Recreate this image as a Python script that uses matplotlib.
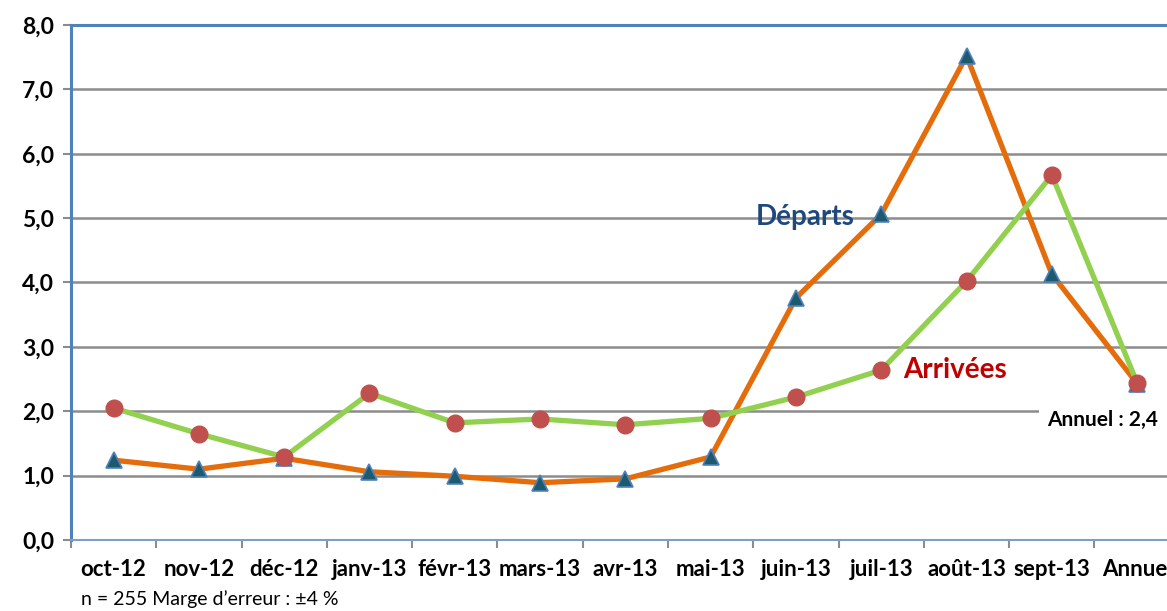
import matplotlib
matplotlib.use("Agg")
import matplotlib.pyplot as plt
import numpy as np

mois = ["oct-12", "nov-12", "déc-12", "janv-13", "févr-13", "mars-13", "avr-13",
        "mai-13", "juin-13", "juil-13", "août-13", "sept-13", "Annuel"]
departs = [1.24, 1.10, 1.27, 1.06, 0.99, 0.89, 0.95, 1.29, 3.76, 5.06, 7.52, 4.13, 2.43]
arrivees = [2.05, 1.65, 1.29, 2.28, 1.82, 1.88, 1.79, 1.89, 2.22, 2.64, 4.02, 5.67, 2.44]
yticks = [0, 1, 2, 3, 4, 5, 6, 7, 8]

plt.rcParams['font.family'] = ['Lato', 'DejaVu Sans']

fig = plt.figure(figsize=(11.67, 6.11), dpi=100)
ax = fig.add_axes([0.0608, 0.1162, 0.9392, 0.8429])

x = np.arange(len(mois))
ax.plot(x, departs, color='#E46C0A', lw=3.8, marker='^', ms=11,
        mfc='#1D5A6E', mec='#4F81BD', mew=1.2, zorder=3)
ax.plot(x, arrivees, color='#92D050', lw=3.8, marker='o', ms=12,
        mfc='#C0504D', mec='#C0504D', zorder=4)

ax.set_yticks(yticks)
ax.set_yticklabels([f"{v:.1f}".replace('.', ',') for v in yticks],
                   fontsize=16.5, fontweight='bold')
ax.yaxis.grid(True, color='#8C8C8C', lw=1.8)
ax.set_axisbelow(True)

ax.set_xticks(x)
ax.set_xticklabels(mois, fontsize=16, fontweight='bold')
ax.set_xticks(np.arange(-0.5, 12.6, 1), minor=True)
ax.tick_params(axis='x', which='major', length=0, pad=14)
ax.tick_params(axis='x', which='minor', length=6, width=1.5, color='#8C8C8C')
ax.tick_params(axis='y', length=6, width=1.5, color='#8C8C8C', pad=6)
ax.set_ylim(0, 8)
ax.set_xlim(-0.5, 12.35)

for s in ['left', 'top']:
    ax.spines[s].set_color('#4F81BD')
    ax.spines[s].set_linewidth(2.2)
ax.spines['bottom'].set_color('#7F9FCB')
ax.spines['bottom'].set_linewidth(1.5)
ax.spines['right'].set_visible(False)

ax.text(7.53, 5.02, "Départs", color='#1F497D', fontsize=20,
        fontweight='bold', ha='left', va='center', zorder=5)
ax.text(9.26, 2.64, "Arrivées", color='#C00000', fontsize=20,
        fontweight='bold', ha='left', va='center', zorder=5)
ax.text(10.95, 1.86, "Annuel : 2,4", color='black', fontsize=15,
        fontweight='bold', ha='left', va='center', zorder=5,
        bbox=dict(facecolor='white', edgecolor='none', pad=6))

fig.text(0.069, 0.005, "n = 255 Marge d\u2019erreur : \u00b14 %", fontsize=14,
         ha='left', va='bottom')

fig.savefig("out.png", dpi=100)
